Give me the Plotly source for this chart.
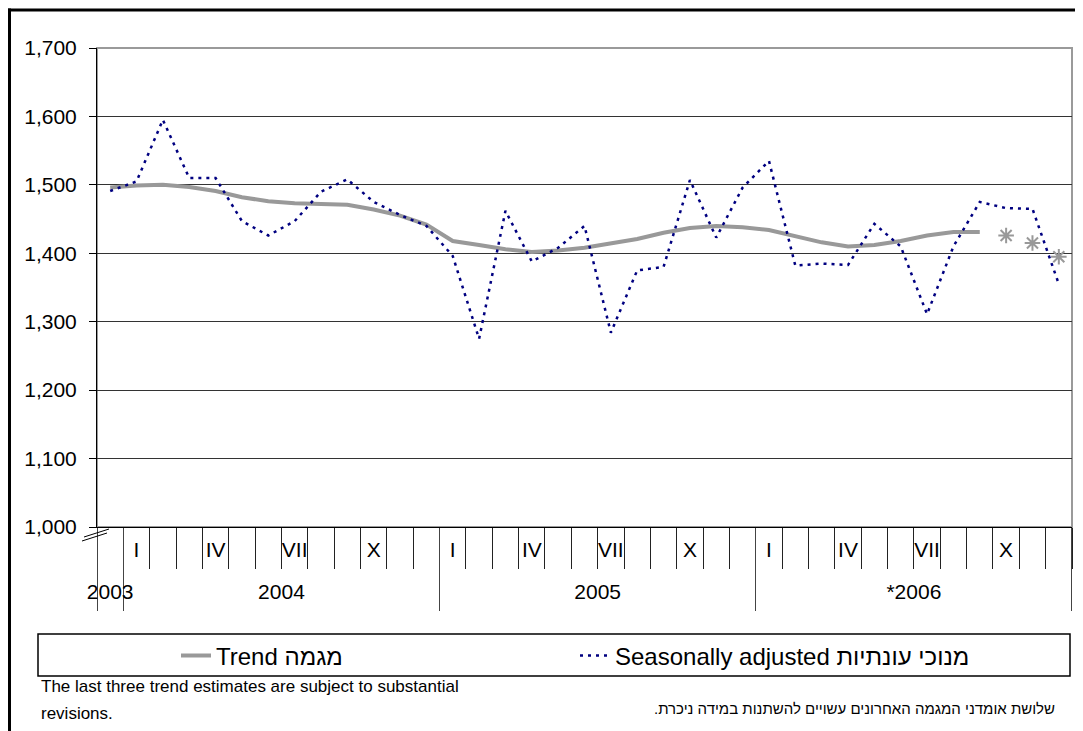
import plotly.graph_objects as go

# ---------------- data ----------------
categories = ["XII-2003",
              "I-2004", "II-2004", "III-2004", "IV-2004", "V-2004", "VI-2004",
              "VII-2004", "VIII-2004", "IX-2004", "X-2004", "XI-2004", "XII-2004",
              "I-2005", "II-2005", "III-2005", "IV-2005", "V-2005", "VI-2005",
              "VII-2005", "VIII-2005", "IX-2005", "X-2005", "XI-2005", "XII-2005",
              "I-2006", "II-2006", "III-2006", "IV-2006", "V-2006", "VI-2006",
              "VII-2006", "VIII-2006", "IX-2006", "X-2006", "XI-2006", "XII-2006"]

month_labels = ["",
                "I", "", "", "IV", "", "", "VII", "", "", "X", "", "",
                "I", "", "", "IV", "", "", "VII", "", "", "X", "", "",
                "I", "", "", "IV", "", "", "VII", "", "", "X", "", ""]

year_labels = ["2003", "2004", "2005", "*2006"]
year_label_pos = [0, 6.5, 18.5, 30.5]
year_bounds = [-0.498, 0.5, 12.5, 24.5, 36.498]

seasonally_adjusted = [1491, 1505, 1595, 1510, 1510, 1447, 1426, 1447, 1490, 1508, 1475, 1456,
                       1440, 1396, 1275, 1462, 1388, 1408, 1440, 1284, 1375, 1380, 1507, 1423,
                       1496, 1535, 1382, 1385, 1383, 1443, 1410, 1311, 1410, 1475, 1466, 1465,
                       1355]

trend = [1496, 1499, 1500, 1497, 1491, 1482, 1476, 1473, 1472, 1471, 1464, 1455,
         1442, 1418, 1412, 1406, 1402, 1404, 1408, 1414, 1421, 1430, 1437, 1440,
         1438, 1434, 1425, 1416, 1410, 1412, 1418, 1426, 1431, 1431]

trend_provisional_cats = ["X-2006", "XI-2006", "XII-2006"]
trend_provisional = [1426, 1415, 1395]

y_ticks = [1000, 1100, 1200, 1300, 1400, 1500, 1600, 1700]

# ---------------- layout helpers ----------------
# screen coordinates of the page (the figure sits 8px inside the page body)
OFF = 8
W, H = 1083 - OFF, 731 - OFF
L, R, T, B = 97, 1072, 48, 527   # plot area in screen pixels


def px_x(p):
    return (p - L) / (R - L)


def px_y(p):
    return (B - p) / (B - T)


FONT = "Liberation Sans, Arial, sans-serif"

fig = go.Figure()

fig.add_trace(go.Scatter(
    x=categories[:len(trend)], y=trend, mode="lines",
    name="Trend מגמה",
    line=dict(color="#999999", width=4),
    legend="legend"))

fig.add_trace(go.Scatter(
    x=trend_provisional_cats, y=trend_provisional, mode="markers",
    showlegend=False,
    marker=dict(symbol="asterisk-open", size=13, color="#999999",
                line=dict(color="#999999", width=2))))

fig.add_trace(go.Scatter(
    x=categories, y=seasonally_adjusted, mode="lines",
    name="Seasonally adjusted מנוכי עונתיות",
    line=dict(color="#000080", width=2.5, dash="3px,5px"),
    legend="legend2"))

shapes = [
    # plot frame (gray top/right)
    dict(type="rect", xref="paper", yref="paper", x0=0, x1=1, y0=0, y1=1,
         line=dict(color="#9a9a9a", width=2), layer="below"),
    # outer black border (top and left)
    dict(type="line", xref="paper", yref="paper",
         x0=px_x(8), x1=px_x(1090), y0=px_y(10), y1=px_y(10),
         line=dict(color="black", width=3)),
    dict(type="line", xref="paper", yref="paper",
         x0=px_x(9.5), x1=px_x(9.5), y0=px_y(8.5), y1=px_y(740),
         line=dict(color="black", width=3)),
    # axis break marks
    dict(type="line", xref="paper", yref="paper",
         x0=px_x(82), x1=px_x(107), y0=px_y(541), y1=px_y(533),
         line=dict(color="black", width=1)),
    dict(type="line", xref="paper", yref="paper",
         x0=px_x(84), x1=px_x(109), y0=px_y(537), y1=px_y(529),
         line=dict(color="black", width=1)),
    # legend box
    dict(type="rect", xref="paper", yref="paper",
         x0=px_x(38), x1=px_x(1070), y0=px_y(676), y1=px_y(634),
         line=dict(color="black", width=1.5), fillcolor="rgba(0,0,0,0)"),
]

annotations = [
    dict(xref="paper", yref="paper", x=px_x(39), y=px_y(686),
         xanchor="left", yanchor="middle", showarrow=False,
         text="The last three trend estimates are subject to substantial",
         font=dict(family=FONT, size=17, color="black")),
    dict(xref="paper", yref="paper", x=px_x(39), y=px_y(713),
         xanchor="left", yanchor="middle", showarrow=False,
         text="revisions.",
         font=dict(family=FONT, size=17, color="black")),
    dict(xref="paper", yref="paper", x=px_x(1057), y=px_y(708),
         xanchor="right", yanchor="middle", showarrow=False,
         text="שלושת אומדני המגמה האחרונים עשויים להשתנות במידה ניכרת.\u200f",
         font=dict(family=FONT, size=15, color="black")),
]

xr = [-0.5, 36.5]

fig.update_layout(
    width=W, height=H,
    margin=dict(l=L - OFF, r=W - (R - OFF), t=T - OFF, b=H - (B - OFF), pad=0),
    paper_bgcolor="white", plot_bgcolor="white",
    font=dict(family=FONT, color="black"),
    shapes=shapes, annotations=annotations,
    xaxis=dict(type="category", categoryorder="array", categoryarray=categories,
               range=xr, tickmode="array", tickvals=categories, ticktext=month_labels,
               ticks="", showgrid=False, zeroline=False,
               showline=True, linecolor="black", linewidth=1,
               tickfont=dict(family=FONT, size=21, color="black"),
               ticklabelstandoff=4, fixedrange=True),
    xaxis2=dict(overlaying="x", anchor="y", side="bottom", range=xr,
                tickmode="array",
                tickvals=[i - 0.5 for i in range(len(categories) + 1)],
                ticks="outside", ticklen=41, tickcolor="#222222", tickwidth=1,
                showticklabels=False, showgrid=False, zeroline=False, showline=False),
    xaxis3=dict(overlaying="x", anchor="y", side="bottom", range=xr,
                tickmode="array", tickvals=year_bounds,
                ticks="outside", ticklen=83, tickcolor="#444444", tickwidth=1,
                showticklabels=False, showgrid=False, zeroline=False, showline=False),
    xaxis4=dict(overlaying="x", anchor="y", side="bottom", range=xr,
                tickmode="array", tickvals=year_label_pos, ticktext=year_labels,
                ticks="", showgrid=False, zeroline=False, showline=False,
                tickfont=dict(family=FONT, size=21, color="black"),
                ticklabelstandoff=50),
    yaxis=dict(range=[1000, 1700], tickmode="array", tickvals=y_ticks,
               tickformat=",", ticks="outside", ticklen=7, tickcolor="black",
               showline=True, linecolor="black", linewidth=1,
               showgrid=True, gridcolor="#333333", gridwidth=1, zeroline=False,
               tickfont=dict(family=FONT, size=21, color="black"),
               ticklabelstandoff=8, fixedrange=True),
    legend=dict(x=px_x(176), y=px_y(656), xanchor="left", yanchor="middle",
                orientation="h", bgcolor="rgba(0,0,0,0)", borderwidth=0,
                font=dict(family=FONT, size=24, color="black")),
    legend2=dict(x=px_x(575), y=px_y(656), xanchor="left", yanchor="middle",
                 orientation="h", bgcolor="rgba(0,0,0,0)", borderwidth=0,
                 font=dict(family=FONT, size=24, color="black")),
)

# empty traces to activate overlay axes
for ax in ["x2", "x3", "x4"]:
    fig.add_trace(go.Scatter(x=[None], y=[None], xaxis=ax, yaxis="y",
                             showlegend=False, hoverinfo="skip"))

fig.write_html("out.html")
